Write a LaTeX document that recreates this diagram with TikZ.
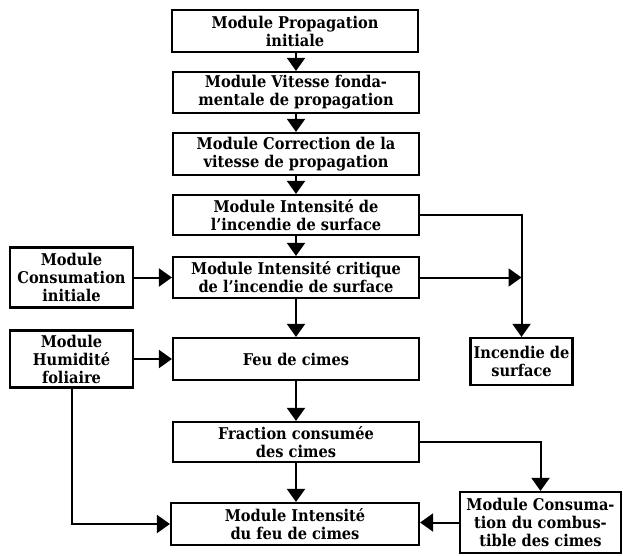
\documentclass[tikz,border=0pt]{standalone}
\usepackage{fontspec}
\setmainfont{DejaVu Serif Condensed}
\usepackage{tikz}
\usetikzlibrary{arrows.meta}
\tikzset{
  modbox/.style={draw=black, line width=2.2pt, align=center, inner sep=0pt,
    minimum width=246pt, minimum height=41pt, font=\bfseries\fontsize{16.2}{18}\selectfont},
  sidebox/.style={modbox, minimum width=123pt},
  link/.style={draw=black, line width=2pt, -{Triangle[width=18pt,length=13pt]}},
}
\begin{document}
\begin{tikzpicture}[x=1pt,y=-1pt]
  \fill[white] (0,0) rectangle (623,556);
  \useasboundingbox (0,0) rectangle (623,556);
  % central column
  \node[modbox, minimum height=42pt] (prop) at (295,31) {Module Propagation\\initiale};
  \node[modbox] (vit) at (296,92.5) {Module Vitesse fonda-\\mentale de propagation};
  \node[modbox, minimum height=42pt] (corr) at (296,154) {Module Correction de la\\vitesse de propagation};
  \node[modbox, minimum height=40pt] (intsurf) at (296,215) {Module Intensité de\\l’incendie de surface};
  \node[modbox] (intcrit) at (296,277.5) {Module Intensité critique\\de l’incendie de surface};
  \node[modbox, minimum height=42pt] (feu) at (296,359) {Feu de cimes};
  \node[modbox, minimum height=40pt] (frac) at (296,442) {Fraction consumée\\des cimes};
  \node[modbox, minimum width=248pt, minimum height=42pt] (intfeu) at (295,524) {Module Intensité\\du feu de cimes};
  % side boxes
  \node[sidebox, minimum height=60pt] (consinit) at (71.5,277.5) {Module\\Consumation\\initiale};
  \node[sidebox, minimum height=57pt] (humid) at (71.5,359) {Module\\Humidité\\foliaire};
  \node[sidebox, minimum width=102pt, minimum height=47pt] (incsurf) at (521.5,361.5) {Incendie de\\surface};
  \node[sidebox, minimum width=161pt, minimum height=61pt] (conscomb) at (540.5,522.5) {Module Consuma-\\tion du combus-\\tible des cimes};
  % connectors
  \draw[link] (prop.south -| vit.north) -- (vit);
  \draw[link] (vit) -- (corr);
  \draw[link] (corr) -- (intsurf);
  \draw[link] (intsurf) -- (intcrit);
  \draw[link] (intcrit) -- (feu);
  \draw[link] (feu) -- (frac);
  \draw[link] (frac) -- (frac.south |- intfeu.north);
  \draw[link] (intsurf.east) -| (incsurf.north);
  \draw[link] (intcrit.east) -- (intcrit.east -| incsurf.north);
  \draw[link] (consinit) -- (intcrit);
  \draw[link] (humid) -- (feu);
  \draw[link] (humid.south) |- (intfeu.west);
  \draw[link] (frac.east) -| (conscomb.north);
  \draw[link] (conscomb.west) -- (conscomb.west -| intfeu.east);
\end{tikzpicture}
\end{document}
